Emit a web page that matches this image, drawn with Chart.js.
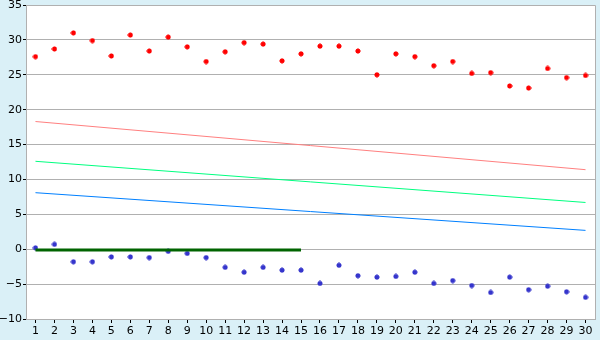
<!DOCTYPE html>
<html>
<head>
<meta charset="utf-8">
<script src="https://cdn.jsdelivr.net/npm/chart.js@4/dist/chart.umd.min.js"></script>
<style>
    html, body { margin: 0; padding: 0; background: #daf0f7; }
    #wrap { width: 600px; height: 340px; }
</style>
</head>
<body>
<div id="wrap"><canvas id="chart" width="600" height="340"></canvas></div>
<script>
// Categories along the x axis
const categories = ['1', '2', '3', '4', '5', '6', '7', '8', '9', '10',
    '11', '12', '13', '14', '15', '16', '17', '18', '19', '20',
    '21', '22', '23', '24', '25', '26', '27', '28', '29', '30'];

// Upper scatter series (red diamonds)
const redPoints = [27.6, 28.7, 31.0, 29.9, 27.7, 30.7, 28.4, 30.4, 29.0, 26.9,
    28.3, 29.6, 29.4, 27.0, 28.0, 29.1, 29.1, 28.4, 25.0, 28.0,
    27.6, 26.3, 26.9, 25.2, 25.3, 23.4, 23.1, 25.9, 24.6, 24.9];

// Lower scatter series (blue diamonds)
const bluePoints = [0.2, 0.7, -1.8, -1.8, -1.1, -1.1, -1.2, -0.3, -0.6, -1.2,
    -2.6, -3.3, -2.6, -3.0, -3.0, -4.9, -2.3, -3.8, -4.0, -3.9,
    -3.3, -4.9, -4.5, -5.2, -6.2, -4.0, -5.8, -5.3, -6.1, -6.9];

// Straight lines: value at first and last category
const lineCats = ['1', '30'];
const redLine = [18.3, 11.4];
const greenLine = [12.6, 6.7];
const blueLine = [8.1, 2.7];

// Thick dark green base line
const baseCats = ['1', '15'];
const baseLine = [-0.1, -0.1];

// Y axis ticks
const yTicks = [-10, -5, 0, 5, 10, 15, 20, 25, 30, 35];

function makeMarker(color) {
    const c = document.createElement('canvas');
    c.width = 6;
    c.height = 6;
    const g = c.getContext('2d');
    g.fillStyle = color;
    g.fillRect(2, 0.5, 2, 5);
    g.fillRect(0.5, 2, 5, 2);
    g.fillRect(1, 1, 4, 4);
    return c;
}

function pairs(cats, values) {
    return cats.map((c, i) => ({ x: c, y: values[i] }));
}

const plotBackground = {
    id: 'plotBackground',
    beforeDraw(chart) {
        const { ctx, chartArea: a } = chart;
        ctx.save();
        ctx.fillStyle = '#daf0f7';
        ctx.fillRect(0, 0, chart.width, chart.height);
        ctx.fillStyle = '#ffffff';
        ctx.fillRect(a.left, a.top, a.right - a.left, a.bottom - a.top);
        ctx.restore();
    },
    afterDatasetsDraw(chart) {
        const { ctx, chartArea: a } = chart;
        ctx.save();
        ctx.strokeStyle = '#b0b0b0';
        ctx.lineWidth = 1;
        ctx.beginPath();
        ctx.moveTo(a.left, a.top + 0.5);
        ctx.lineTo(a.right + 0.5, a.top + 0.5);
        ctx.lineTo(a.right + 0.5, a.bottom);
        ctx.stroke();
        ctx.restore();
    }
};

const lineStyle = (color, width) => ({
    type: 'line',
    borderColor: color,
    borderWidth: width,
    pointRadius: 0,
    fill: false,
    tension: 0
});

const pointStyle = (color) => ({
    type: 'line',
    showLine: false,
    pointStyle: makeMarker(color),
    pointRadius: 3,
    borderColor: color,
    backgroundColor: color
});

new Chart(document.getElementById('chart'), {
    type: 'line',
    data: {
        labels: categories,
        datasets: [
            { ...lineStyle('#ff8080', 1), data: pairs(lineCats, redLine) },
            { ...lineStyle('#00ff80', 1), data: pairs(lineCats, greenLine) },
            { ...lineStyle('#0080ff', 1), data: pairs(lineCats, blueLine) },
            { ...lineStyle('#006400', 3), data: pairs(baseCats, baseLine) },
            { ...pointStyle('#ff0000'), data: redPoints },
            { ...pointStyle('#3535cc'), data: bluePoints }
        ]
    },
    options: {
        responsive: false,
        animation: false,
        devicePixelRatio: 1,
        layout: { padding: { top: 5, right: 5, bottom: 0, left: 0 } },
        plugins: {
            legend: { display: false },
            tooltip: { enabled: false }
        },
        scales: {
            x: {
                type: 'category',
                offset: true,
                afterFit(scale) {
                    scale.height = 21;
                    scale.paddingLeft = 0;
                    scale.paddingRight = 0;
                },
                grid: {
                    offset: false,
                    drawOnChartArea: false,
                    drawTicks: true,
                    tickLength: 4,
                    color: '#000000'
                },
                border: { color: '#b0b0b0' },
                ticks: {
                    autoSkip: false,
                    maxRotation: 0,
                    padding: 2,
                    color: '#000000',
                    font: { family: 'DejaVu Sans', size: 11 }
                }
            },
            y: {
                min: yTicks[0],
                max: yTicks[yTicks.length - 1],
                afterFit(scale) {
                    scale.width = 26;
                    scale.paddingTop = 0;
                    scale.paddingBottom = 0;
                },
                afterBuildTicks(scale) {
                    scale.ticks = yTicks.map(v => ({ value: v }));
                },
                grid: {
                    color: '#b0b0b0',
                    tickColor: '#000000',
                    tickLength: 3
                },
                border: { color: '#b0b0b0' },
                ticks: {
                    padding: 1,
                    color: '#000000',
                    font: { family: 'DejaVu Sans', size: 11 },
                    callback: v => v < 0 ? '\u2212' + Math.abs(v) : String(v)
                }
            }
        }
    },
    plugins: [plotBackground]
});
</script>
</body>
</html>
